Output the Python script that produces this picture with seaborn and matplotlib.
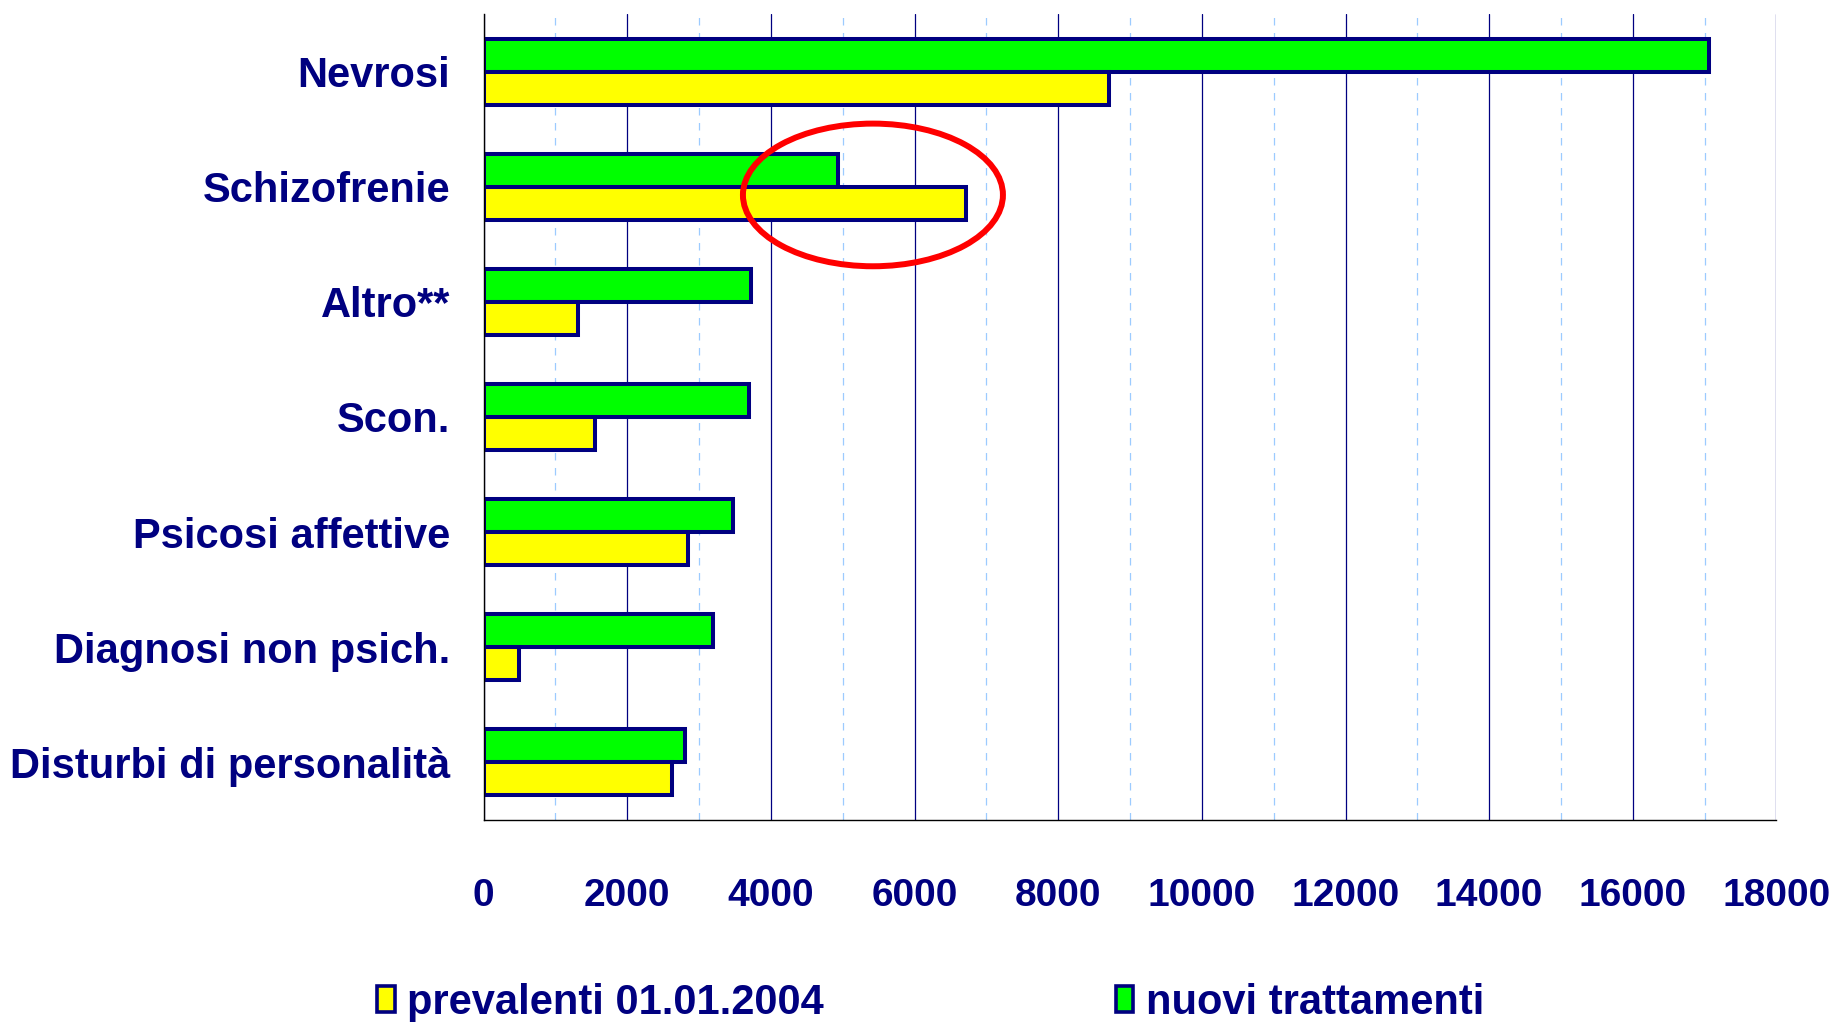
import matplotlib
matplotlib.use('Agg')
from matplotlib import pyplot as plt
from matplotlib import font_manager
from matplotlib.patches import Ellipse, Patch
from matplotlib.ticker import FixedLocator
import seaborn as sns
import pandas as pd
import numpy as np

categories = ['Nevrosi', 'Schizofrenie', 'Altro**', 'Scon.', 'Psicosi affettive',
              'Diagnosi non psich.', 'Disturbi di personalità']
nuovi = [17060, 4930, 3720, 3690, 3470, 3200, 2810]
prevalenti = [8710, 6710, 1320, 1555, 2840, 490, 2625]
series = ['nuovi trattamenti', 'prevalenti 01.01.2004']
colors = ['#00FF00', '#FFFF00']
xticks = np.arange(0, 18001, 2000)

navy = '#000080'

sns.set_style('white')
names = {f.name for f in font_manager.fontManager.ttflist}
if 'Liberation Sans Narrow' in names:
    plt.rcParams['font.family'] = ['Liberation Sans Narrow', 'DejaVu Sans']
    cat_size, tick_size, leg_size = 37, 34, 37
else:
    plt.rcParams['font.family'] = ['Liberation Sans', 'DejaVu Sans']
    cat_size, tick_size, leg_size = 30, 28, 30

df = pd.DataFrame({
    'category': categories * 2,
    'value': nuovi + prevalenti,
    'series': [series[0]] * len(categories) + [series[1]] * len(categories),
})

fig = plt.figure(figsize=(18.39, 10.22), dpi=100)
ax = fig.add_axes([0.263, 0.198, 0.703, 0.788])
ax.set_axisbelow(True)

sns.barplot(data=df, x='value', y='category', hue='series', hue_order=series,
            order=categories, orient='h', palette=colors, saturation=1,
            edgecolor=navy, linewidth=2.9, width=0.57, gap=0, legend=False, ax=ax)

ax.set_xlim(0, 18000)
ax.set_ylim(len(categories) - 0.5, -0.5)
ax.set_xlabel('')
ax.set_ylabel('')

ax.set_xticks(xticks)
ax.set_xticklabels([str(x) for x in xticks])
ax.xaxis.set_minor_locator(FixedLocator(np.arange(1000, 18000, 2000)))
ax.grid(which='major', axis='x', color=navy, linewidth=0.9)
ax.grid(which='minor', axis='x', color='#9CCBFF', linewidth=0.9, linestyle=(0, (6, 6)))
ax.grid(which='both', axis='y', visible=False)

ax.yaxis.set_minor_locator(FixedLocator(np.arange(-0.5, len(categories), 1.0)))
ax.tick_params(axis='y', which='major', length=0, pad=24, labelsize=cat_size,
               labelcolor=navy)
ax.tick_params(axis='y', which='minor', length=11, width=1, color='black', direction='out')
ax.tick_params(axis='x', which='major', length=11, width=1, color='black', direction='out',
               pad=31, labelsize=tick_size, labelcolor=navy)
ax.tick_params(axis='x', which='minor', length=0)
for lab in ax.get_xticklabels() + ax.get_yticklabels():
    lab.set_fontweight('bold')

for s in ['top', 'right']:
    ax.spines[s].set_visible(False)
for s in ['left', 'bottom']:
    ax.spines[s].set_color('black')
    ax.spines[s].set_linewidth(1)

# red ellipse highlighting Schizofrenie
ax.add_patch(Ellipse((5420, 1.07), 3620, 1.24, fill=False, edgecolor='#FF0000',
                     linewidth=4.3, zorder=10, clip_on=False))

handles = [Patch(facecolor=colors[1], edgecolor=navy, linewidth=2.6, label=series[1]),
           Patch(facecolor=colors[0], edgecolor=navy, linewidth=2.6, label=series[0])]
leg = fig.legend(handles=handles, loc='center', bbox_to_anchor=(0.506, 0.019), ncol=2,
                 frameon=False, handlelength=0.42, handleheight=0.6, handletextpad=0.3,
                 columnspacing=7.0, prop={'size': leg_size, 'weight': 'bold'})
for t in leg.get_texts():
    t.set_color(navy)

plt.savefig('out.png', dpi=100)
